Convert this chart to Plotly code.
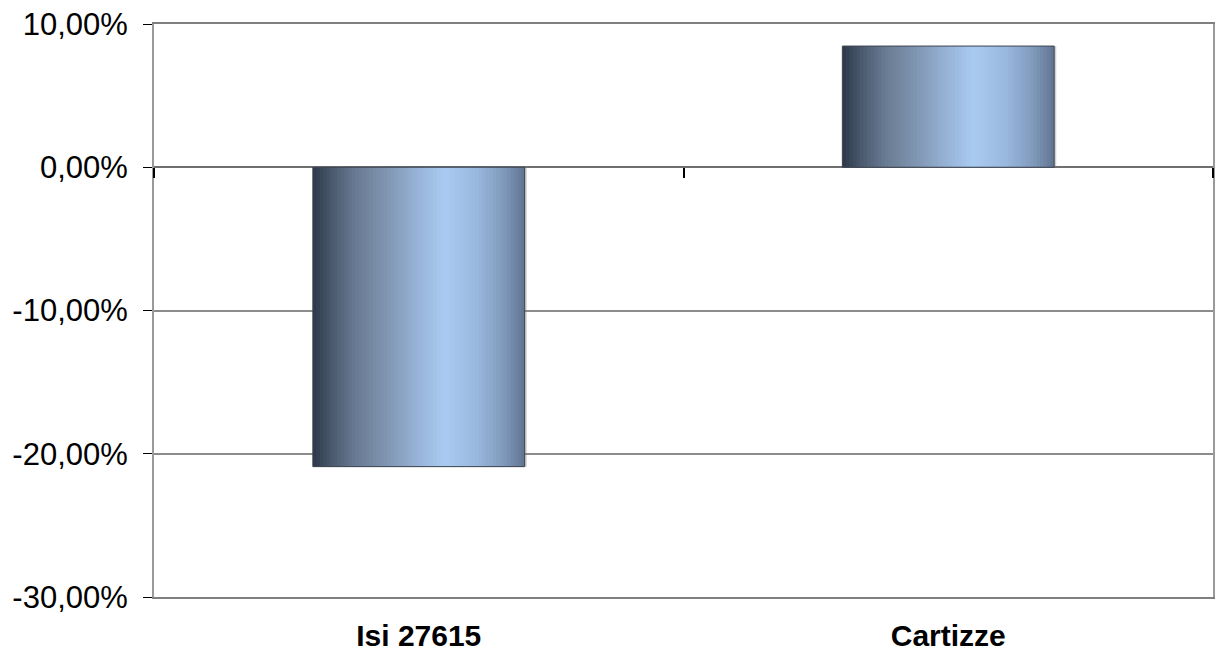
import plotly.graph_objects as go

# Data
categories = ["Isi 27615", "Cartizze"]
variation = [-0.209, 0.0846]
tick_values = [-0.3, -0.2, -0.1, 0.0, 0.1]
tick_labels = ["-30,00%", "-20,00%", "-10,00%", "0,00%", "10,00%"]

# Horizontal shading of the bars: (position across bar, colour)
shade_stops = [
    (0.00, (44, 56, 72)),
    (0.08, (72, 86, 106)),
    (0.20, (104, 122, 146)),
    (0.35, (128, 150, 178)),
    (0.50, (152, 180, 216)),
    (0.62, (170, 203, 241)),
    (0.78, (152, 183, 220)),
    (0.90, (128, 154, 188)),
    (1.00, (96, 116, 144)),
]


def shade_at(t):
    for (t0, c0), (t1, c1) in zip(shade_stops, shade_stops[1:]):
        if t0 <= t <= t1:
            f = (t - t0) / (t1 - t0) if t1 > t0 else 0
            return "rgb(%d,%d,%d)" % tuple(round(a + (b - a) * f) for a, b in zip(c0, c1))
    return "rgb(%d,%d,%d)" % shade_stops[-1][1]


x_pos = list(range(len(categories)))
bar_width = 0.4
n_slices = 60
step = bar_width / n_slices

fig = go.Figure()

# faint drop shadow
fig.add_trace(go.Bar(
    x=x_pos, y=variation, width=bar_width, offset=-bar_width / 2 + 0.004,
    marker=dict(color="rgba(120,120,120,0.35)", line=dict(width=0)),
    hoverinfo="skip", showlegend=False,
))

for i in range(n_slices):
    t = (i + 0.5) / n_slices
    w = step * 1.6 if i < n_slices - 1 else step
    off = -bar_width / 2 + i * step
    w = min(w, bar_width / 2 - off)
    fig.add_trace(go.Bar(
        x=x_pos, y=variation, width=w, offset=off,
        marker=dict(color=shade_at(t), line=dict(width=0)),
        hoverinfo="skip", showlegend=False,
    ))

# bar outline
fig.add_trace(go.Bar(
    x=x_pos, y=variation, width=bar_width, offset=-bar_width / 2,
    marker=dict(color="rgba(0,0,0,0)", line=dict(color="#3c4450", width=1)),
    showlegend=False,
))

# boundary ticks along the zero line
fig.add_trace(go.Scatter(
    x=[-0.5, 1.5], y=[None, None], xaxis="x2", yaxis="y",
    mode="lines", showlegend=False, hoverinfo="skip",
))

fig.update_layout(
    width=1215, height=652,
    margin=dict(l=154, r=0, t=24, b=55),
    paper_bgcolor="white", plot_bgcolor="white",
    barmode="overlay",
    font=dict(family="Liberation Sans, Arial, sans-serif", color="black"),
    xaxis=dict(
        range=[-0.5, 1.5], tickvals=x_pos, ticktext=categories,
        tickfont=dict(size=30, weight="bold"),
        ticks="", showgrid=False, zeroline=False,
        showline=True, linecolor="#7f7f7f", linewidth=2, mirror=True,
        ticklabelstandoff=11,
    ),
    xaxis2=dict(
        range=[-0.5, 1.5], overlaying="x", anchor="free", position=0.75,
        side="bottom", tickvals=[-0.5, 0.5, 1.5], ticks="outside",
        ticklen=10, tickwidth=2, tickcolor="black",
        showticklabels=False, showgrid=False, zeroline=False, showline=False,
    ),
    yaxis=dict(
        range=[-0.3, 0.1], tickvals=tick_values, ticktext=tick_labels,
        tickfont=dict(size=31),
        ticks="outside", ticklen=9, tickwidth=1, tickcolor="black",
        ticklabelstandoff=9,
        showgrid=True, gridcolor="#8c8c8c", gridwidth=2,
        zeroline=True, zerolinecolor="#6f6f6f", zerolinewidth=2,
        showline=True, linecolor="#9a9a9a", linewidth=2, mirror=True,
    ),
)

fig.write_html("out.html")
